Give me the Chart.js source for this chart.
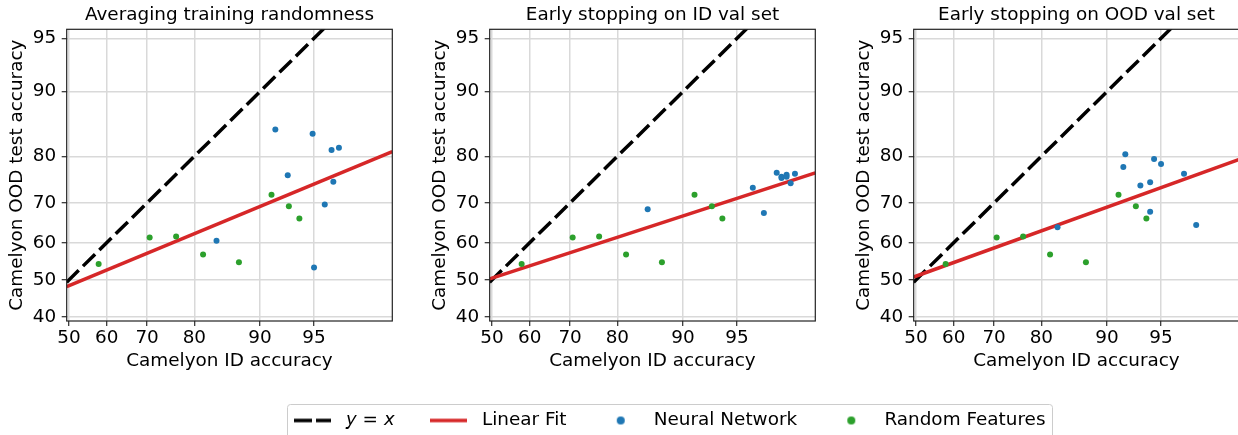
<!DOCTYPE html>
<html>
<head>
<meta charset="utf-8">
<script src="https://cdn.jsdelivr.net/npm/chart.js@4.4.1/dist/chart.umd.min.js"></script>
<style>
  html,body{margin:0;padding:0;background:#fff;width:1238px;height:435px;overflow:hidden;position:relative;}
  .panel{position:absolute;top:0;}
  canvas{display:block;}
</style>
</head>
<body>
<div class="panel" style="left:0px"><canvas id="c1" width="459" height="380"></canvas></div>
<div class="panel" style="left:423.3px"><canvas id="c2" width="459" height="380"></canvas></div>
<div class="panel" style="left:846.6px"><canvas id="c3" width="459" height="380"></canvas></div>
<div class="panel" style="left:0px;top:380.5px"><canvas id="lg" width="1238" height="200"></canvas></div>
<script>
// ---------------- data ----------------
const titles = ['Averaging training randomness', 'Early stopping on ID val set', 'Early stopping on OOD val set'];
const xLabel = 'Camelyon ID accuracy';
const yLabel = 'Camelyon OOD test accuracy';
const xTicks = [50, 60, 70, 80, 90, 95];
const yTicks = [40, 50, 60, 70, 80, 90, 95];
const xRange = [49.4, 98.5];
const yRange = [39.0, 95.6];
const diagX = [45, 99];
const diagY = [45, 99];

// Random features (same in all panels)
const rfId  = [57.9, 70.6, 76.4, 81.6, 87.3, 91.3, 93.0, 93.9];
const rfOod = [54.3, 61.4, 61.6, 56.9, 54.8, 71.9, 69.2, 66.2];

// Neural networks
const nn1Id  = [91.7, 94.9, 96.1, 96.5, 92.9, 96.2, 95.7, 83.9, 95.0];
const nn1Ood = [84.7, 84.0, 81.2, 81.6, 76.2, 74.8, 69.6, 60.5, 53.4];
const nn2Id  = [85.2, 96.0, 96.6, 97.2, 97.4, 97.4, 97.6, 97.6, 97.75, 97.9];
const nn2Ood = [68.5, 73.5, 67.6, 76.7, 75.9, 75.6, 76.3, 75.9, 74.5, 76.5];
const nn3Id  = [92.0, 91.8, 94.5, 95.0, 93.4, 94.2, 96.4, 94.2, 97.0, 82.9];
const nn3Ood = [80.4, 77.9, 79.5, 78.5, 74.0, 74.7, 76.5, 67.9, 64.6, 64.0];

// Linear-fit endpoints (at the x-axis limits)
const fitX  = [49.4, 98.5];
const fit1Y = [48.2, 80.9];
const fit2Y = [50.3, 76.7];
const fit3Y = [50.8, 79.4];

// legend: math-italic "y = x"
const legendLabels = ['\u{1D63A} = \u{1D639}', 'Linear Fit', 'Neural Network', 'Random Features'];

// ---------------- probit scale ----------------
function probit(p){
  const a=[-3.969683028665376e+01,2.209460984245205e+02,-2.759285104469687e+02,1.383577518672690e+02,-3.066479806614716e+01,2.506628277459239e+00];
  const b=[-5.447609879822406e+01,1.615858368580409e+02,-1.556989798598866e+02,6.680131188771972e+01,-1.328068155288572e+01];
  const c=[-7.784894002430293e-03,-3.223964580411365e-01,-2.400758277161838e+00,-2.549732539343734e+00,4.374664141464968e+00,2.938163982698783e+00];
  const d=[7.784695709041462e-03,3.224671290700398e-01,2.445134137142996e+00,3.754408661907416e+00];
  const pl=0.02425, ph=1-pl;
  if(p<=0) return -8; if(p>=1) return 8;
  if(p<pl){const q=Math.sqrt(-2*Math.log(p));return (((((c[0]*q+c[1])*q+c[2])*q+c[3])*q+c[4])*q+c[5])/((((d[0]*q+d[1])*q+d[2])*q+d[3])*q+1);}
  if(p<=ph){const q=p-0.5,r=q*q;return (((((a[0]*r+a[1])*r+a[2])*r+a[3])*r+a[4])*r+a[5])*q/(((((b[0]*r+b[1])*r+b[2])*r+b[3])*r+b[4])*r+1);}
  const q=Math.sqrt(-2*Math.log(1-p));return -(((((c[0]*q+c[1])*q+c[2])*q+c[3])*q+c[4])*q+c[5])/((((d[0]*q+d[1])*q+d[2])*q+d[3])*q+1);
}
function normCdf(z){
  const t=1/(1+0.2316419*Math.abs(z));
  const y=0.3989423*Math.exp(-z*z/2)*t*(0.3193815+t*(-0.3565638+t*(1.781478+t*(-1.821256+t*1.330274))));
  return z>0?1-y:y;
}
class ProbitScale extends Chart.Scale {
  static id = 'probit';
  static defaults = {};
  determineDataLimits(){ this.min = this.options.min; this.max = this.options.max; }
  buildTicks(){ return (this.options.tickValues || []).map(v => ({value: v})); }
  configure(){ super.configure(); this._ps = probit(this.min/100); this._pr = probit(this.max/100) - this._ps; }
  getLabelForValue(v){ return String(v); }
  getPixelForValue(v){ if (v == null || isNaN(v)) return NaN; return this.getPixelForDecimal((probit(v/100) - this._ps)/this._pr); }
  getValueForPixel(px){ return 100*normCdf(this.getDecimalForPixel(px)*this._pr + this._ps); }
}
Chart.register(ProbitScale);

const FS = 18.4;
Chart.defaults.font.family = "'DejaVu Sans', sans-serif";
Chart.defaults.font.size = FS;
Chart.defaults.color = '#000';

const BLUE = '#1f77b4', GREEN = '#2ca02c', RED = '#d62728';
const DASH = [17, 6];

const framePlugin = {
  id: 'frame',
  afterDatasetsDraw(chart){
    const a = chart.chartArea, ctx = chart.ctx;
    ctx.save();
    ctx.strokeStyle = '#222'; ctx.lineWidth = 1.2;
    ctx.strokeRect(a.left, a.top, a.right - a.left, a.bottom - a.top);
    ctx.restore();
  }
};

function pts(xs, ys){ return xs.map((x, i) => ({x: x, y: ys[i]})); }

function makePanel(id, title, nnId, nnOod, fitY){
  new Chart(document.getElementById(id), {
    type: 'scatter',
    data: {
      datasets: [
        {label: legendLabels[3], data: pts(rfId, rfOod), backgroundColor: GREEN, borderColor: GREEN, pointRadius: 3, pointBorderWidth: 0, order: 0},
        {label: legendLabels[2], data: pts(nnId, nnOod), backgroundColor: BLUE, borderColor: BLUE, pointRadius: 3, pointBorderWidth: 0, order: 1},
        {label: legendLabels[1], data: pts(fitX, fitY), showLine: true, borderColor: RED, borderWidth: 3.5, pointRadius: 0, order: 2},
        {label: legendLabels[0], data: pts(diagX, diagY), showLine: true, borderColor: '#000', borderWidth: 3.5, borderDash: DASH, pointRadius: 0, order: 3}
      ]
    },
    options: {
      responsive: false, animation: false, events: [],
      layout: {padding: {left: 0, right: 66.7, top: 0, bottom: 0}},
      plugins: {
        legend: {display: false}, tooltip: {enabled: false},
        title: {display: true, fullSize: false, text: title, color: '#000', font: {size: FS, weight: 'normal', lineHeight: 1.2}, padding: {top: 4, bottom: 3.22}}
      },
      scales: {
        x: {
          type: 'probit', position: 'bottom', min: xRange[0], max: xRange[1], tickValues: xTicks,
          grid: {color: '#d9d9d9', lineWidth: 1.5, tickColor: '#000', tickLength: 5, tickWidth: 1},
          border: {display: false},
          ticks: {autoSkip: false, maxRotation: 0, padding: 1, color: '#000', font: {size: FS}},
          title: {display: true, text: xLabel, color: '#000', font: {size: FS, lineHeight: 1.2}, padding: {top: 0, bottom: 8}},
          afterFit(s){ s.height = 380 - 321; }
        },
        y: {
          type: 'probit', position: 'left', min: yRange[0], max: yRange[1], tickValues: yTicks,
          grid: {color: '#d9d9d9', lineWidth: 1.5, tickColor: '#000', tickLength: 5, tickWidth: 1},
          border: {display: false},
          ticks: {autoSkip: false, padding: 5.5, color: '#000', font: {size: FS}},
          title: {display: true, text: yLabel, color: '#000', font: {size: FS, lineHeight: 1.2}, padding: {top: 6.5, bottom: 0}},
          afterFit(s){ s.width = 66.7; }
        }
      }
    },
    plugins: [framePlugin]
  });
}
makePanel('c1', titles[0], nn1Id, nn1Ood, fit1Y);
makePanel('c2', titles[1], nn2Id, nn2Ood, fit2Y);
makePanel('c3', titles[2], nn3Id, nn3Ood, fit3Y);

// ---------------- legend ----------------
const HANDLE = 37;      // handle length in px
const BOXW = 47.8;      // slot reserved for each handle
function markerCanvas(kind, color){
  const c = document.createElement('canvas');
  if (kind === 'dot') {
    c.width = 10; c.height = 10;
    const g = c.getContext('2d'); g.fillStyle = color; g.beginPath(); g.arc(5, 5, 4, 0, Math.PI*2); g.fill();
  } else {
    c.width = HANDLE; c.height = 8;
    const g = c.getContext('2d'); g.strokeStyle = color; g.lineWidth = 3.5;
    if (kind === 'dash') g.setLineDash([18, 4]);
    g.beginPath(); g.moveTo(0, 4); g.lineTo(HANDLE, 4); g.stroke();
  }
  return c;
}
const legendMarkers = [markerCanvas('dash', '#000'), markerCanvas('line', RED), markerCanvas('dot', BLUE), markerCanvas('dot', GREEN)];

const legendFrame = {
  id: 'legendFrame',
  afterDraw(chart){
    const hb = chart.legend.legendHitBoxes; if (!hb || !hb.length) return;
    const ctx = chart.ctx;
    const left = hb[0].left + BOXW/2 - HANDLE/2 - 6.5;
    const last = hb[hb.length-1];
    const right = last.left + last.width + 7;
    const cy = hb[0].top + FS/2;
    const top = cy - 16.5, bot = cy + 19;
    ctx.save(); ctx.strokeStyle = '#cccccc'; ctx.lineWidth = 1;
    ctx.beginPath(); ctx.roundRect(Math.round(left)+0.5, Math.round(top)+0.5, Math.round(right - left), Math.round(bot - top), 3); ctx.stroke(); ctx.restore();
  }
};

new Chart(document.getElementById('lg'), {
  type: 'scatter',
  data: {datasets: legendLabels.map((l, i) => ({label: l, data: []}))},
  options: {
    responsive: false, animation: false, events: [],
    layout: {padding: {top: 0, left: 96, right: 0, bottom: 0}},
    scales: {x: {display: false}, y: {display: false}},
    plugins: {
      tooltip: {enabled: false},
      legend: {
        display: true, position: 'top', align: 'center',
        labels: {
          usePointStyle: true, pointStyleWidth: BOXW, padding: 30.3, color: '#000', font: {size: FS},
          generateLabels(chart){
            return chart.data.datasets.map((ds, i) => ({text: ds.label, pointStyle: legendMarkers[i], fillStyle: '#000', strokeStyle: '#000', lineWidth: 0, hidden: false, datasetIndex: i}));
          }
        }
      }
    }
  },
  plugins: [legendFrame]
});
</script>
</body>
</html>
